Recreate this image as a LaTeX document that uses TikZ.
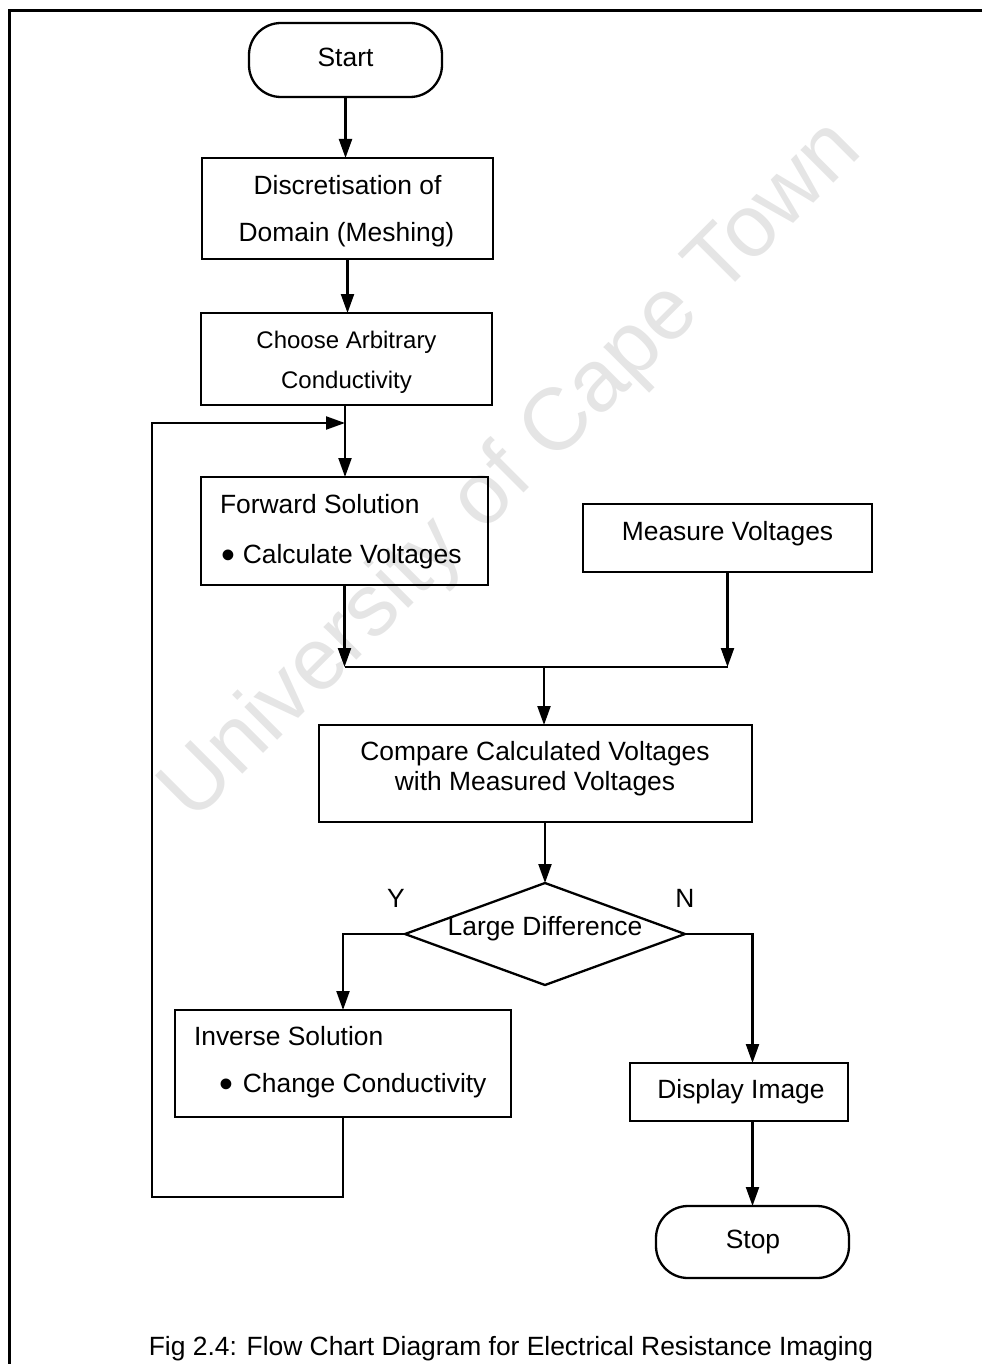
\documentclass[tikz,border=0pt]{standalone}
\usepackage{fontspec}
\setmainfont{Liberation Sans}
\usetikzlibrary{arrows.meta,shapes.geometric}

\newcommand{\bigbullet}{\raisebox{-5pt}{\scalebox{1.5}{\textbullet}}}

\begin{document}
\begin{tikzpicture}[x=1pt,y=-1pt,
  every node/.style={inner sep=0pt, outer sep=0pt},
  txt/.style={font=\fontsize{26.4}{30}\selectfont, anchor=base},
  txtl/.style={txt, anchor=base west},
  txtsm/.style={font=\fontsize{24}{28}\selectfont, anchor=base},
  proc/.style={draw, line width=2.3pt, rectangle},
  term/.style={draw, line width=2.3pt, rectangle, rounded corners=32pt},
  decision/.style={draw, line width=2.3pt, diamond},
  flow/.style={line width=2.2pt, -{Triangle[length=19pt,width=13pt]}},
  wire/.style={line width=2.2pt},
  wm/.style={font=\fontsize{88}{100}\selectfont, text=black!10, rotate=45},
]
\useasboundingbox (0,0) rectangle (982,1364);

% watermark behind everything
\node[wm] (wmark) at (513,472) {University of Cape Town};

% page frame
\draw[line width=3pt] (982,11) -- (9,11) -- (9,1364);

% shapes
\node[term, minimum width=193pt, minimum height=74pt] (start) at (345.5,60) {};
\node[proc, minimum width=291pt, minimum height=101pt] (disc) at (347.5,208.5) {};
\node[proc, minimum width=291pt, minimum height=92pt] (choose) at (346.5,359) {};
\node[proc, minimum width=287pt, minimum height=108pt] (forward) at (344.5,531) {};
\node[proc, minimum width=289pt, minimum height=68pt] (measure) at (727.5,538) {};
\node[proc, minimum width=433pt, minimum height=97pt] (compare) at (535.5,773.5) {};
\node[decision, minimum width=280pt, minimum height=102pt] (dec) at (545,934) {};
\node[proc, minimum width=336pt, minimum height=107pt] (inverse) at (343,1063.5) {};
\node[proc, minimum width=218pt, minimum height=58pt] (display) at (739,1092) {};
\node[term, minimum width=193pt, minimum height=72pt] (stop) at (752.5,1242) {};

% texts
\node[txt] (tstart) at (345.5,67) {Start};
\node[txt] (tdisc1) at (347.5,195) {Discretisation of};
\node[txt] (tdisc2) at (346.5,242) {Domain (Meshing)};
\node[txtsm] (tchoose1) at (346.5,348) {Choose Arbitrary};
\node[txtsm] (tchoose2) at (346.5,388) {Conductivity};
\node[txtl] (tfwd1) at (220,513) {Forward Solution};
\node[txtl] (tfwd2) at (221,563) {\bigbullet\hspace{8pt}Calculate Voltages};
\node[txt] (tmeas) at (727.5,540) {Measure Voltages};
\node[txt] (tcmp1) at (535,760) {Compare Calculated Voltages};
\node[txt] (tcmp2) at (535,790) {with Measured Voltages};
\node[txt] (tdec) at (545,935) {Large Difference};
\node[txt] (tyes) at (396,907) {Y};
\node[txt] (tno) at (685,907) {N};
\node[txtl] (tinv1) at (194,1045) {Inverse Solution};
\node[txtl] (tinv2) at (219,1092) {\bigbullet\hspace{10pt}Change Conductivity};
\node[txt] (tdisp) at (741,1098) {Display Image};
\node[txt] (tstop) at (753,1248) {Stop};
\node[txt] (caption) at (511,1355) {Fig 2.4: Flow Chart Diagram for Electrical Resistance Imaging};

% junction points
\coordinate (join) at (345,423);
\coordinate (back) at (152,1197);
\coordinate (merge) at (544,667);

% connectors
\draw[flow] (start.south) -- (start.south |- disc.north);
\draw[flow] (disc.south) -- (disc.south |- choose.north);
\draw[flow] (join |- choose.south) -- (join |- forward.north);
\draw[flow] (inverse.south) |- (back) |- (join);
\draw[flow] (forward.south) -- (forward.south |- merge);
\draw[flow] (measure.south) -- (measure.south |- merge);
\draw[wire] (forward.south |- merge) -- (measure.south |- merge);
\draw[flow] (merge) -- (merge |- compare.north);
\draw[flow] (dec.north |- compare.south) -- (dec.north);
\draw[flow] (dec.west) -| (inverse.north);
\draw[flow] (dec.east) -| (stop.north |- display.north);
\draw[flow] (stop.north |- display.south) -- (stop.north);
\end{tikzpicture}
\end{document}
